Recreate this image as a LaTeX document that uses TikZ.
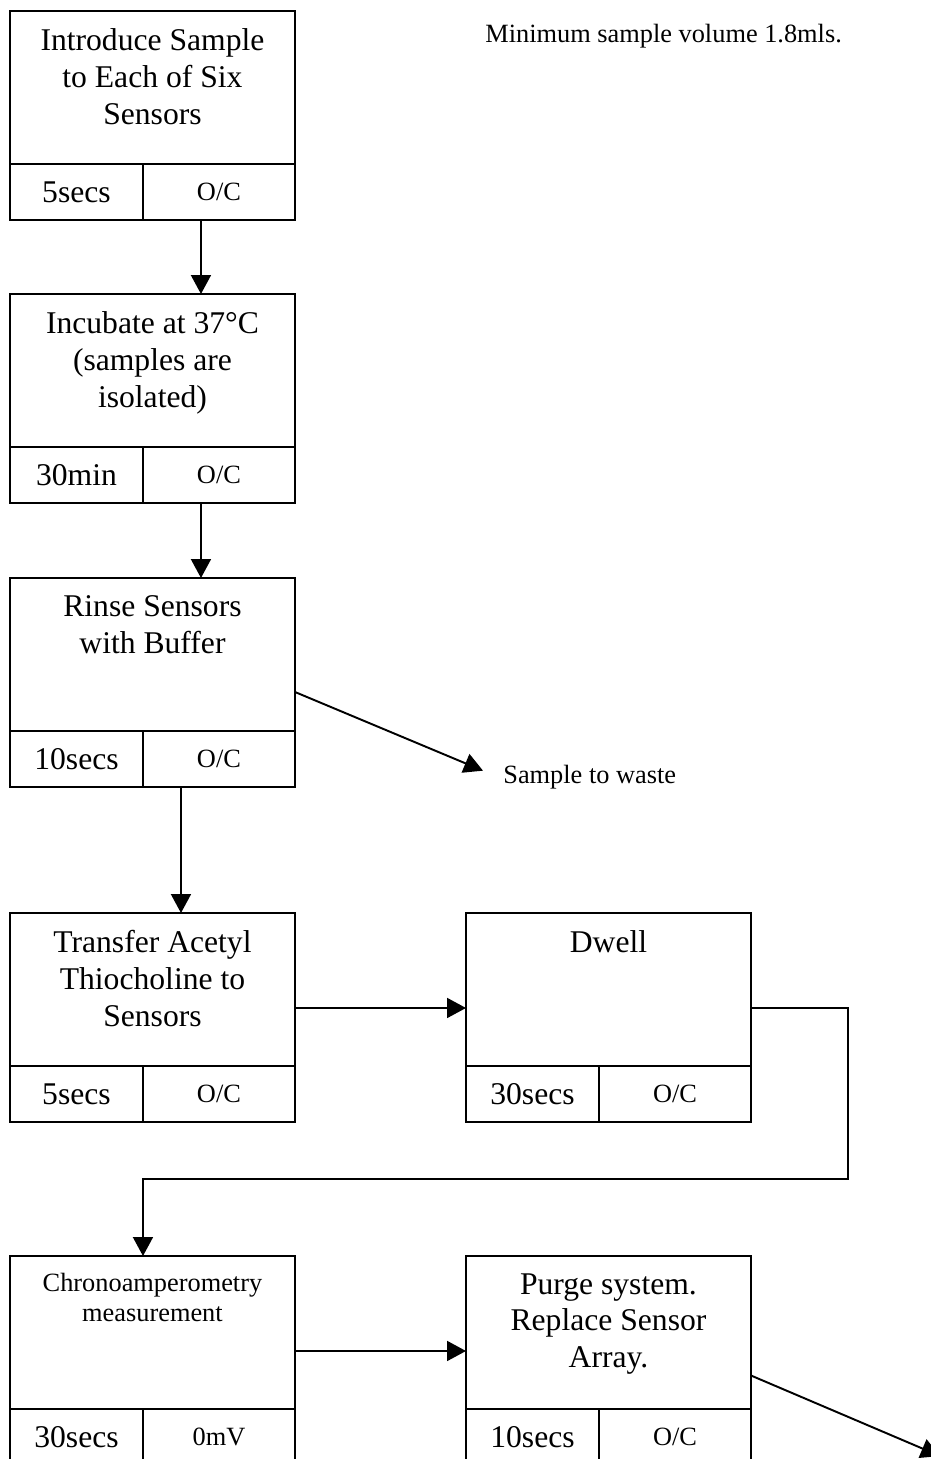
\documentclass[tikz,border=0pt]{standalone}
\usepackage{fontspec}
\setmainfont{Liberation Serif}
\usepackage{tikz}
\usetikzlibrary{positioning,calc,arrows.meta}

\begin{document}
\begin{tikzpicture}[x=0.02cm, y=-0.02cm,
    stage/.style={draw, line width=1.1pt, minimum width=5.7cm, minimum height=3.06cm, anchor=north west, inner sep=0pt, outer sep=0pt},
    timecell/.style={draw, line width=1.1pt, minimum width=2.66cm, minimum height=1.12cm, anchor=north west, inner sep=0pt, outer sep=0pt, font=\fontsize{18}{21}\selectfont},
    voltcell/.style={draw, line width=1.1pt, minimum width=3.04cm, minimum height=1.12cm, anchor=north west, inner sep=0pt, outer sep=0pt, font=\fontsize{15}{17}\selectfont},
    biglabel/.style={align=center, inner sep=0pt, font=\fontsize{18}{21}\selectfont},
    smalllabel/.style={align=center, inner sep=0pt, font=\fontsize{15}{17}\selectfont},
    note/.style={inner sep=0pt, font=\fontsize{15}{17}\selectfont},
    flow/.style={line width=1.1pt, -{Triangle[length=0.38cm, width=0.4cm]}}]
    \useasboundingbox (0,0) rectangle (930,1459);

    % Note at the top
    \node[note, anchor=base west] (volume) at (485,43) {Minimum sample volume 1.8mls.};

    % Step 1
    \node[stage] (intro) at (10,11) {};
    \node[biglabel, below=0.34cm of intro.north] (intro-l) {Introduce Sample\\to Each of Six\\Sensors};
    \node[timecell] (intro-t) at (intro.south west) {5secs};
    \node[voltcell] (intro-v) at (intro-t.north east) {O/C};

    % Step 2
    \node[stage] (incubate) at (10,294) {};
    \node[biglabel, below=0.34cm of incubate.north] (incubate-l) {Incubate at 37°C\\(samples are\\isolated)};
    \node[timecell] (incubate-t) at (incubate.south west) {30min};
    \node[voltcell] (incubate-v) at (incubate-t.north east) {O/C};

    % Step 3
    \node[stage] (rinse) at (10,578) {};
    \node[biglabel, below=0.34cm of rinse.north] (rinse-l) {Rinse Sensors\\with Buffer};
    \node[timecell] (rinse-t) at (rinse.south west) {10secs};
    \node[voltcell] (rinse-v) at (rinse-t.north east) {O/C};

    % Step 4
    \node[stage] (transfer) at (10,913) {};
    \node[biglabel, below=0.34cm of transfer.north] (transfer-l) {Transfer Acetyl\\Thiocholine to\\Sensors};
    \node[timecell] (transfer-t) at (transfer.south west) {5secs};
    \node[voltcell] (transfer-v) at (transfer-t.north east) {O/C};

    % Step 5
    \node[stage] (dwell) at (466,913) {};
    \node[biglabel, below=0.34cm of dwell.north] (dwell-l) {Dwell};
    \node[timecell] (dwell-t) at (dwell.south west) {30secs};
    \node[voltcell] (dwell-v) at (dwell-t.north east) {O/C};

    % Step 6
    \node[stage] (chrono) at (10,1256) {};
    \node[smalllabel, below=0.34cm of chrono.north] (chrono-l) {Chronoamperometry\\measurement};
    \node[timecell] (chrono-t) at (chrono.south west) {30secs};
    \node[voltcell] (chrono-v) at (chrono-t.north east) {0mV};

    % Step 7
    \node[stage] (purge) at (466,1256) {};
    \node[biglabel, below=0.34cm of purge.north] (purge-l) {Purge system.\\Replace Sensor\\Array.};
    \node[timecell] (purge-t) at (purge.south west) {10secs};
    \node[voltcell] (purge-v) at (purge-t.north east) {O/C};

    % Waste label
    \node[note, anchor=base west] (waste) at (503,783) {Sample to waste};

    % Connectors
    \coordinate (a1) at ([xshift=-0.36cm]intro-v.south);
    \draw[flow] (a1) -- (a1 |- incubate.north);
    \coordinate (a2) at ([xshift=-0.36cm]incubate-v.south);
    \draw[flow] (a2) -- (a2 |- rinse.north);
    \coordinate (a3) at ([xshift=-0.76cm]rinse-v.south);
    \draw[flow] (a3) -- (a3 |- transfer.north);
    \draw[flow] ([yshift=-0.75cm]rinse.east) -- ([xshift=-0.4cm, yshift=0.12cm]waste.west);
    \draw[flow] ([yshift=-0.37cm]transfer.east) -- ([yshift=-0.37cm]dwell.west);
    \coordinate (turn) at (848,1179);
    \draw[flow] ([yshift=-0.37cm]dwell.east) -| (turn) -| (chrono-t.north east |- chrono.north);
    \draw[flow] ([yshift=-0.37cm]chrono.east) -- ([yshift=-0.37cm]purge.west);
    \coordinate (out) at (940,1456);
    \draw[flow] ([yshift=-0.86cm]purge.east) -- (out);

\end{tikzpicture}
\end{document}
